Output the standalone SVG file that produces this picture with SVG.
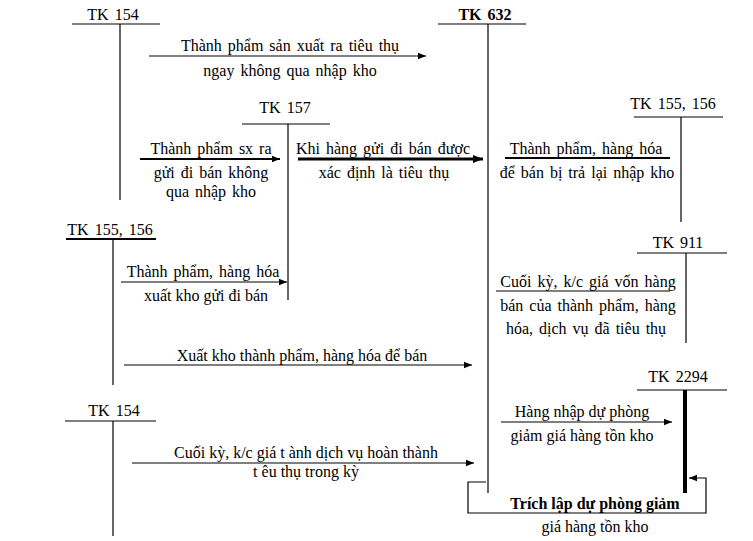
<svg xmlns="http://www.w3.org/2000/svg" width="753" height="541" viewBox="0 0 753 541" font-family="'Liberation Serif', 'DejaVu Serif', serif">
<defs>
<marker id="ah" viewBox="0 0 10 10" refX="10" refY="5" markerWidth="8" markerHeight="8" markerUnits="userSpaceOnUse" orient="auto"><path d="M0,1 L10,5 L0,9 z" fill="#000"/></marker>
<marker id="ahb" viewBox="0 0 10 10" refX="10" refY="5" markerWidth="10" markerHeight="10" markerUnits="userSpaceOnUse" orient="auto"><path d="M0,1 L10,5 L0,9 z" fill="#000"/></marker>
</defs>
<style>
text{font-family:'Liberation Serif','DejaVu Serif',serif;font-size:16px;fill:#000;text-anchor:middle;word-spacing:2px}
.b{font-weight:bold}
line,path.c{stroke:#000;stroke-width:1.2;fill:none}
</style>
<rect width="753" height="541" fill="#fff"/>
<g id="tk154a"><text x="113" y="20">TK 154</text><line x1="72" y1="24" x2="160" y2="24"/><line x1="120" y1="24" x2="120" y2="200"/></g>
<g id="tk632"><text x="485" y="20" class="b">TK 632</text><line x1="438" y1="24" x2="526" y2="24"/><line x1="488" y1="24" x2="488" y2="493"/></g>
<g id="tk157"><text x="285" y="113">TK 157</text><line x1="242" y1="124" x2="330" y2="124"/><line x1="288" y1="124" x2="288" y2="300"/></g>
<g id="tk155r"><text x="673" y="109">TK 155, 156</text><line x1="634" y1="117" x2="723" y2="117"/><line x1="681" y1="117" x2="681" y2="222"/></g>
<g id="tk155l"><text x="110" y="235">TK 155, 156</text><line x1="66" y1="239" x2="156" y2="239" style="stroke-width:2"/><line x1="113" y1="240" x2="113" y2="385"/></g>
<g id="tk911"><text x="678" y="248">TK 911</text><line x1="637" y1="253" x2="727" y2="253"/><line x1="686" y1="253" x2="686" y2="343"/></g>
<g id="tk154b"><text x="114" y="416">TK 154</text><line x1="65" y1="421" x2="156" y2="421"/><line x1="113" y1="421" x2="113" y2="536"/></g>
<g id="tk2294"><text x="678" y="382">TK 2294</text><line x1="637" y1="390" x2="727" y2="390"/><line x1="685" y1="390" x2="685" y2="493" style="stroke-width:4"/></g>
<g id="connectors">
<line x1="149" y1="56" x2="426" y2="56" marker-end="url(#ah)"/>
<line x1="140" y1="159" x2="280" y2="159" style="stroke-width:2" marker-end="url(#ah)"/>
<line x1="298" y1="159" x2="483" y2="159" style="stroke-width:3" marker-end="url(#ahb)"/>
<line x1="121" y1="282" x2="287" y2="282" marker-end="url(#ah)"/>
<line x1="124" y1="365" x2="472" y2="365" marker-end="url(#ah)"/>
<line x1="132" y1="463" x2="474" y2="463" marker-end="url(#ah)"/>
<line x1="501" y1="422" x2="672" y2="422" marker-end="url(#ah)"/>
<path class="c" d="M486,482 H468 V513 H706 V478 H689" marker-end="url(#ah)"/>
<line x1="505" y1="158" x2="670" y2="158" style="stroke-width:2"/>
<line x1="496" y1="291" x2="670" y2="291"/>
</g>
<g id="labels">
<text x="290" y="51">Thành phẩm sản xuất ra tiêu thụ</text>
<text x="290" y="76">ngay không qua nhập kho</text>
<text x="211" y="154">Thành phẩm sx ra</text>
<text x="211" y="178">gửi đi bán không</text>
<text x="211" y="197">qua nhập kho</text>
<text x="383" y="154">Khi hàng gửi đi bán được</text>
<text x="384" y="178">xác định là tiêu thụ</text>
<text x="586" y="154">Thành phẩm, hàng hóa</text>
<text x="587" y="178">để bán bị trả lại nhập kho</text>
<text x="203" y="277">Thành phẩm, hàng hóa</text>
<text x="206" y="301" style="word-spacing:0">xuất kho gửi đi bán</text>
<text x="302" y="361" style="word-spacing:0">Xuất kho thành phẩm, hàng hóa để bán</text>
<text x="306" y="458" style="word-spacing:0">Cuối kỳ, k/c giá t  ành dịch vụ hoàn thành</text>
<text x="306" y="477" style="word-spacing:0">t êu thụ trong kỳ</text>
<text x="588" y="287">Cuối kỳ, k/c giá vốn hàng</text>
<text x="588" y="311">bán của thành phẩm, hàng</text>
<text x="586" y="334">hóa, dịch vụ đã tiêu thụ</text>
<text x="582" y="417" style="word-spacing:0">Hàng nhập dự phòng</text>
<text x="582" y="441" style="word-spacing:0">giảm giá hàng tồn kho</text>
<text x="595" y="509" class="b" style="word-spacing:0">Trích lập dự phòng giảm</text>
<text x="595" y="532" style="word-spacing:0">giá hàng tồn kho</text>
</g>
</svg>
